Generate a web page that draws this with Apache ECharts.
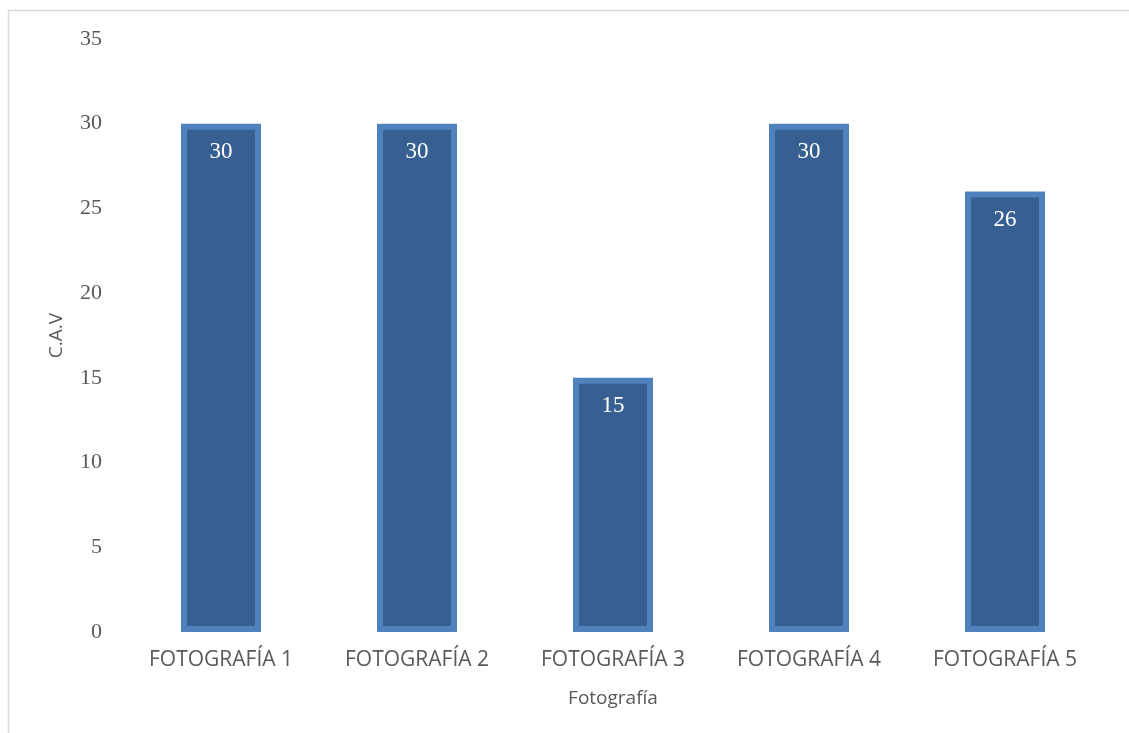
<!DOCTYPE html>
<html>
<head>
<meta charset="utf-8">
<script src="https://cdn.jsdelivr.net/npm/echarts@6/dist/echarts.min.js"></script>
<style>html,body{margin:0;padding:0;background:#fff}#c{width:1129px;height:733px}</style>
</head>
<body>
<div id="c"></div>
<script>
const categories = ['FOTOGRAFÍA 1', 'FOTOGRAFÍA 2', 'FOTOGRAFÍA 3', 'FOTOGRAFÍA 4', 'FOTOGRAFÍA 5'];
const values = [30, 30, 15, 30, 26];
const xName = 'Fotografía';
const yName = 'C.A.V';

const chart = echarts.init(document.getElementById('c'));
chart.setOption({
  animation: false,
  backgroundColor: '#fff',
  graphic: [{
    type: 'rect',
    shape: { x: 8.5, y: 10.5, width: 1200, height: 800 },
    style: { fill: 'none', stroke: '#d9d9d9', lineWidth: 1.5 },
    silent: true
  }],
  grid: { left: 123, right: 26, top: 39, bottom: 101, containLabel: false },
  xAxis: {
    type: 'category',
    data: categories,
    axisLine: { show: false },
    axisTick: { show: false },
    axisLabel: { color: '#595959', fontFamily: 'Open Sans', fontSize: 21, margin: 18 },
    name: xName,
    nameLocation: 'middle',
    nameGap: 57,
    nameTextStyle: { color: '#595959', fontFamily: 'Open Sans', fontSize: 19 }
  },
  yAxis: {
    type: 'value',
    min: 0, max: 35, interval: 5,
    axisLine: { show: false },
    axisTick: { show: false },
    splitLine: { show: false },
    axisLabel: { color: '#595959', fontFamily: 'Liberation Serif', fontSize: 22, margin: 21 },
    name: yName,
    nameLocation: 'middle',
    nameGap: 57,
    nameTextStyle: { color: '#595959', fontFamily: 'Open Sans', fontSize: 19 }
  },
  series: [{
    type: 'bar',
    data: values,
    barWidth: 80,
    itemStyle: { color: '#375F91', borderColor: '#4F81BD', borderWidth: 6 },
    label: {
      show: true,
      position: 'insideTop',
      distance: 17,
      color: '#ffffff',
      fontFamily: 'Liberation Serif',
      fontSize: 23
    }
  }]
});
</script>
</body>
</html>
